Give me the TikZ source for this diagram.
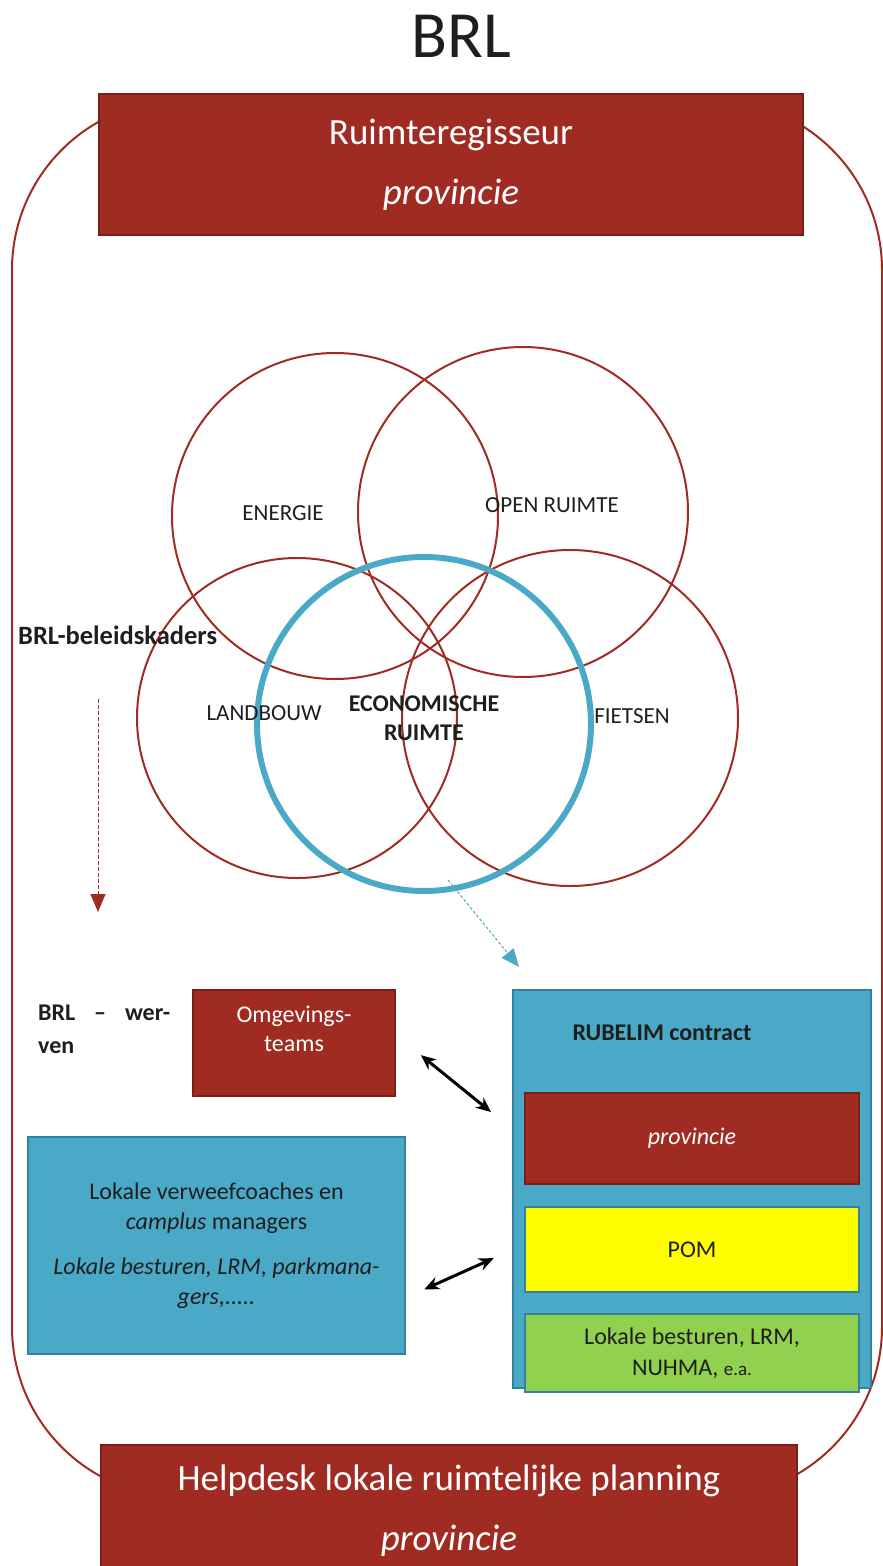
\documentclass[tikz,border=0pt]{standalone}
\usepackage{fontspec}
\setmainfont{Carlito}
\usetikzlibrary{arrows,arrows.meta,positioning}
\definecolor{dr}{RGB}{160,43,34}
\definecolor{drb}{RGB}{122,30,24}
\definecolor{lb}{RGB}{75,169,200}
\definecolor{lbb}{RGB}{49,132,155}
\definecolor{ylw}{RGB}{255,255,0}
\definecolor{grn}{RGB}{146,208,80}
\definecolor{ink}{RGB}{30,30,30}
\tikzset{
    redbox/.style = {rectangle,
                    fill=dr,
                    draw=drb,
                    line width=2pt,
                    text=white,
                    inner sep=0pt,
                    align=center},
    bluebox/.style = {rectangle,
                    fill=lb,
                    draw=lbb,
                    line width=2pt,
                    text=ink,
                    inner sep=0pt,
                    align=center},
    ring/.style =   {circle,
                    draw=dr,
                    line width=2pt,
                    inner sep=0pt},
    ecoring/.style = {circle,
                    draw=lb,
                    line width=6pt,
                    inner sep=0pt},
    txt/.style =    {text=ink,
                    inner sep=0pt,
                    font=\fontsize{24}{29}\selectfont},
    btxt/.style =   {txt,
                    font=\fontsize{24}{29}\selectfont\bfseries},
    ringtxt/.style = {txt,
                    font=\fontsize{23}{29}\selectfont},
    bigtxt/.style = {font=\fontsize{37}{60}\selectfont},
    twoway/.style = {black,
                    line width=3pt,
                    {Stealth[length=15pt,width=13pt]}-{Stealth[length=15pt,width=13pt]}},
    -,
    x=1pt, y=-1pt}

\begin{document}
\begin{tikzpicture}
    \useasboundingbox (0,0) rectangle (883,1566);
    \draw[dr, line width=2pt, rounded corners=170pt] (12,100) rectangle (882,1497);

    \node[text=ink, font=\fontsize{66}{70}\selectfont]    (titel)   at (461,36)       {BRL};
    \node[redbox, bigtxt, minimum width=704pt, minimum height=141pt]  (regisseur) at (451,164.5) {Ruimteregisseur\\\textit{provincie}};
    \node[redbox, bigtxt, minimum width=696pt, minimum height=132pt]  (helpdesk)  at (449,1511)  {Helpdesk lokale ruimtelijke planning\\\textit{provincie}};

    \node[ring, minimum size=326pt]     (energie)  at (335,516) {};
    \node[ring, minimum size=330pt]     (openr)    at (523,512) {};
    \node[ring, minimum size=320pt]     (landbouw) at (297,718) {};
    \node[ring, minimum size=336pt]     (fietsen)  at (570,718) {};
    \node[ecoring, minimum size=334pt]  (econ)     at (424,724) {};

    \node[ringtxt]  (tenergie)  at (283,513)   {ENERGIE};
    \node[ringtxt]  (topenr)    at (552,505)   {OPEN RUIMTE};
    \node[ringtxt]  (tlandbouw) at (264,713)   {LANDBOUW};
    \node[ringtxt]  (tfietsen)  at (632,716)   {FIETSEN};
    \node[btxt, align=center]   (tecon) at (424,718) {ECONOMISCHE\\RUIMTE};

    \node[btxt, font=\fontsize{26.5}{29}\selectfont\bfseries, anchor=west] (beleid) at (18,635) {BRL-beleidskaders};
    \coordinate (werfpijl) at (98,912);
    \draw[dr, line width=1pt, dash pattern=on 4pt off 2pt, -{Triangle[length=18pt,width=15pt]}, shorten <=54pt] (beleid.south -| werfpijl) -- (werfpijl);

    \node[btxt, font=\fontsize{24}{33}\selectfont\bfseries, align=left, anchor=north west] (werven) at (38,1005) {\makebox[132pt][s]{BRL \textbf{--} wer-}\\ven};
    \node[redbox, txt, text=white, minimum width=202pt, minimum height=106pt] (omgeving) at (294,1043) {Omgevings-\\teams\\\mbox{}};
    \node[bluebox, txt, font=\fontsize{24}{30}\selectfont, minimum width=377pt, minimum height=217pt] (coaches) at (216.5,1245.5)
        {Lokale verweefcoaches en\\\textit{camplus} managers\\[15pt]\textit{Lokale besturen, LRM, parkmana-}\\\textit{gers,.....}};

    \node[bluebox, minimum width=358pt, minimum height=398pt] (rubelim) at (692,1189) {};
    \node[btxt] (rubtitel) at (662,1033) {RUBELIM contract};
    \node[redbox, txt, text=white, minimum width=334pt, minimum height=91pt] (rubprov) [below=103pt of rubelim.north] {\textit{provincie}};
    \node[bluebox, txt, fill=ylw, minimum width=334pt, minimum height=85pt]  (pom)    [below=21pt of rubprov]  {POM};
    \node[bluebox, txt, font=\fontsize{24}{31}\selectfont, fill=grn, minimum width=334pt, minimum height=78pt] (besturen) [below=20pt of pom]
        {Lokale besturen, LRM,\\NUHMA, {\fontsize{19}{31}\selectfont e.a.}};

    \draw[lb, line width=1pt, dash pattern=on 3pt off 2pt, -{Triangle[length=18pt,width=15pt]}] ([xshift=24pt,yshift=14pt]econ.south) -- ([xshift=7pt,yshift=22pt]rubelim.north west);
    \draw[twoway, shorten <=32pt, shorten >=27pt] ([yshift=8pt]omgeving.east) -- ([yshift=60pt]rubelim.west);
    \draw[twoway, shorten <=20pt, shorten >=20pt] ([yshift=-52pt]coaches.east) -- ([yshift=-61pt]rubelim.west);
\end{tikzpicture}
\end{document}
